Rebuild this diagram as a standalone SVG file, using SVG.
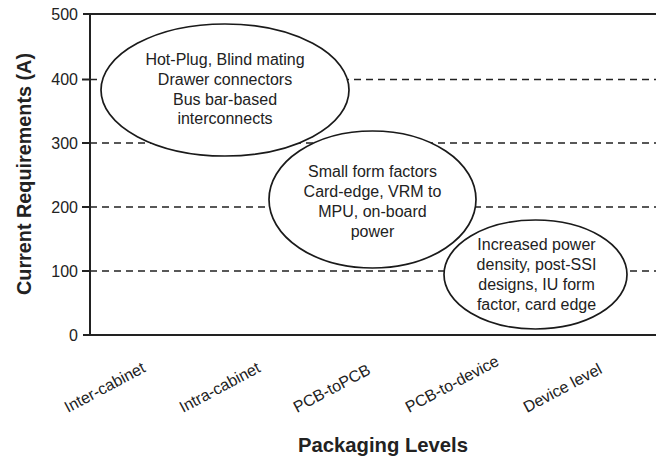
<svg xmlns="http://www.w3.org/2000/svg" width="656" height="460" viewBox="0 0 656 460">
<style>
.axis{stroke:#222;stroke-width:2;fill:none}
.grid{stroke:#222;stroke-width:1.6;stroke-dasharray:7 5;fill:none}
.bg{fill:#fff;stroke:none}
.ol{fill:none;stroke:#1a1a1a;stroke-width:1.7}
text{font-family:"Liberation Sans",Arial,sans-serif;fill:#222}
.t{font-size:16px;text-anchor:middle}
.tick{font-size:16px;text-anchor:end}
.xl{font-size:16px}
.title{font-size:21px;font-weight:bold;text-anchor:middle}
</style>
<rect width="656" height="460" fill="#fff"/>
<g id="grid">
<line class="grid" x1="90" y1="79.5" x2="656" y2="79.5"/>
<line class="grid" x1="90" y1="143" x2="656" y2="143"/>
<line class="grid" x1="90" y1="207" x2="656" y2="207"/>
<line class="grid" x1="90" y1="271" x2="656" y2="271"/>
</g>
<g id="axes">
<line class="axis" x1="83" y1="14" x2="656" y2="14"/>
<line class="axis" x1="90" y1="14" x2="90" y2="336"/>
<line class="axis" x1="83" y1="335" x2="656" y2="335"/>
<line class="axis" x1="82" y1="79.5" x2="90" y2="79.5"/>
<line class="axis" x1="82" y1="143" x2="90" y2="143"/>
<line class="axis" x1="82" y1="207" x2="90" y2="207"/>
<line class="axis" x1="82" y1="271" x2="90" y2="271"/>
</g>
<g id="ytick-labels">
<text class="tick" x="78" y="20">500</text>
<text class="tick" x="78" y="85">400</text>
<text class="tick" x="78" y="149">300</text>
<text class="tick" x="78" y="213">200</text>
<text class="tick" x="78" y="277">100</text>
<text class="tick" x="78" y="341">0</text>
</g>
<g id="ellipse-fills">
<ellipse class="bg" cx="225" cy="90" rx="124" ry="66"/>
<ellipse class="bg" cx="372.5" cy="199.5" rx="103.5" ry="68.5"/>
<ellipse class="bg" cx="535.5" cy="274.5" rx="91.5" ry="54.5"/>
</g>
<g id="node1">
<ellipse class="ol" cx="225" cy="90" rx="124" ry="66"/>
<text class="t" x="225" y="65">Hot-Plug, Blind mating</text>
<text class="t" x="225" y="85">Drawer connectors</text>
<text class="t" x="225" y="105">Bus bar-based</text>
<text class="t" x="225" y="124">interconnects</text>
</g>
<g id="node2">
<ellipse class="ol" cx="372.5" cy="199.5" rx="103.5" ry="68.5"/>
<text class="t" x="372.5" y="177">Small form factors</text>
<text class="t" x="372.5" y="197">Card-edge, VRM to</text>
<text class="t" x="372.5" y="217">MPU, on-board</text>
<text class="t" x="372.5" y="237">power</text>
</g>
<g id="node3">
<ellipse class="ol" cx="535.5" cy="274.5" rx="91.5" ry="54.5"/>
<text class="t" x="536.5" y="250">Increased power</text>
<text class="t" x="536.5" y="270">density, post-SSI</text>
<text class="t" x="536.5" y="290">designs, IU form</text>
<text class="t" x="536.5" y="310">factor, card edge</text>
</g>
<g id="xtick-labels">
<text class="xl" transform="translate(68,413) rotate(-28)">Inter-cabinet</text>
<text class="xl" transform="translate(183,413) rotate(-28)">Intra-cabinet</text>
<text class="xl" transform="translate(297,413) rotate(-28)">PCB-toPCB</text>
<text class="xl" transform="translate(409,413) rotate(-28)">PCB-to-device</text>
<text class="xl" transform="translate(527,413) rotate(-28)">Device level</text>
</g>
<g id="axis-titles">
<text class="title" x="383" y="452" textLength="170" lengthAdjust="spacingAndGlyphs">Packaging Levels</text>
<text class="title" transform="translate(31,174) rotate(-90)" textLength="242" lengthAdjust="spacingAndGlyphs">Current Requirements (A)</text>
</g>
</svg>
